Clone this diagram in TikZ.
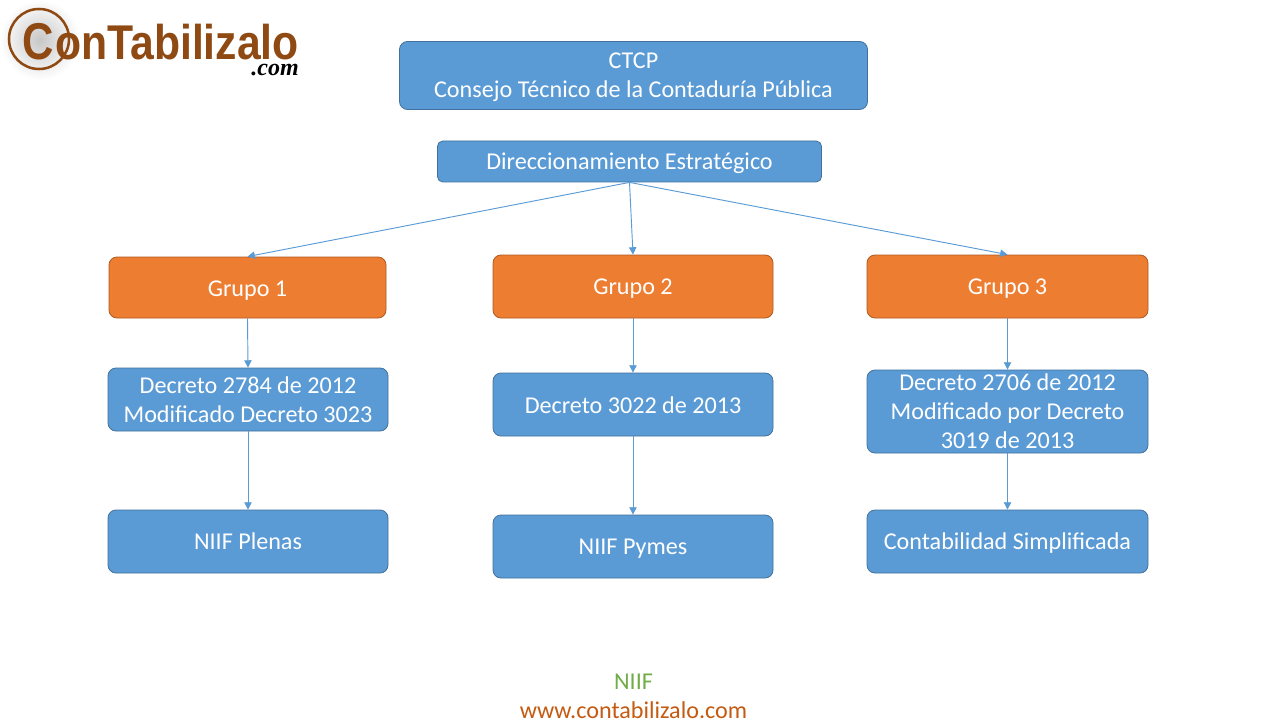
\documentclass[tikz,border=0pt]{standalone}
\usepackage{fontspec}
\setmainfont{Carlito}
\newfontfamily\logofont{Liberation Sans}[FakeStretch=0.875]
\newfontfamily\logoCfont{Liberation Sans}[FakeStretch=0.84]
\newfontfamily\comfont{Liberation Serif}
\usetikzlibrary{arrows.meta}
\definecolor{bluefill}{HTML}{5B9BD5}
\definecolor{blueline}{HTML}{41719C}
\definecolor{orangefill}{HTML}{ED7D31}
\definecolor{orangeline}{HTML}{AE5A21}
\definecolor{logobrown}{HTML}{8F4A14}
\definecolor{niifgreen}{HTML}{70AD47}
\definecolor{urlorange}{HTML}{C55A11}
\newcommand{\dn}[2][1.5pt]{\raisebox{-#1}[\height][\depth]{#2}}
\tikzset{
  x=0.75pt,y=-0.75pt,
  boxbase/.style={rounded corners=6pt,line width=0.6pt,text=white,align=center,inner sep=0pt,
     font=\fontsize{18.1pt}{21.8pt}\selectfont},
  bluebox/.style={boxbase,draw=blueline,fill=bluefill},
  orangebox/.style={boxbase,draw=orangeline,fill=orangefill},
  conn/.style={draw=bluefill,line width=0.7pt,-{Triangle[length=5.5pt,width=5.5pt]}},
  footer/.style={inner sep=0pt,font=\fontsize{18.1pt}{20pt}\selectfont},
  logotext/.style={inner sep=0pt,text=logobrown},
}
\begin{document}
\begin{tikzpicture}
\useasboundingbox (0,0) rectangle (1280,720);
\fill[white] (0,0) rectangle (1280,720);
% logo
\shade[inner color=black!22,outer color=white] (0,0) rectangle (80,80);
\draw[logobrown,line width=1.9pt] (39,39) circle (30);
\node[logotext,anchor=base,font=\logoCfont\bfseries\fontsize{38.8pt}{38.8pt}\selectfont] (logoC) at (38,60) {C};
\node[logotext,anchor=base west,font=\logofont\bfseries\fontsize{36.6pt}{36.6pt}\selectfont] (logoT) at (55,60) {onTabilizalo};
\node[anchor=base east,inner sep=0pt,text=black,font=\comfont\bfseries\itshape\fontsize{18pt}{18pt}\selectfont] (logocom) at (299,76) {.com};
% boxes
\node[bluebox,minimum width=468*0.75pt,minimum height=68*0.75pt] (ctcp) at (633.5,75.5) {\dn{CTCP}\\\dn{Consejo Técnico de la Contaduría Pública}};
\node[bluebox,minimum width=384*0.75pt,minimum height=41*0.75pt,rounded corners=4pt] (dir) at (629.5,161.5) {\dn{Direccionamiento Estratégico}};
\node[orangebox,minimum width=277*0.75pt,minimum height=61*0.75pt] (g1) at (247.5,287.5) {\dn[2pt]{Grupo 1}};
\node[orangebox,minimum width=280*0.75pt,minimum height=63*0.75pt] (g2) at (633,286.5) {\dn{Grupo 2}};
\node[orangebox,minimum width=281*0.75pt,minimum height=63*0.75pt] (g3) at (1007.5,286.5) {\dn{Grupo 3}};
\node[bluebox,minimum width=280*0.75pt,minimum height=63*0.75pt] (d1) at (248,399.5) {Decreto 2784 de 2012\\Modificado Decreto 3023};
\node[bluebox,minimum width=280*0.75pt,minimum height=63*0.75pt] (d2) at (633,404.5) {\dn[0.7pt]{Decreto 3022 de 2013}};
\node[bluebox,minimum width=281*0.75pt,minimum height=83*0.75pt] (d3) at (1007.5,411.5) {Decreto 2706 de 2012\\Modificado por Decreto\\3019 de 2013};
\node[bluebox,minimum width=280*0.75pt,minimum height=63*0.75pt] (n1) at (248,541.5) {NIIF Plenas};
\node[bluebox,minimum width=280*0.75pt,minimum height=63*0.75pt] (n2) at (633,546.5) {\dn{NIIF Pymes}};
\node[bluebox,minimum width=281*0.75pt,minimum height=63*0.75pt] (n3) at (1007.5,541.5) {\dn{Contabilidad Simplificada}};
% connectors
\draw[conn] (dir.south) -- (g1.north);
\draw[conn] (dir.south) -- (g2.north);
\draw[conn] (dir.south) -- (g3.north);
\draw[conn] (g1.south) -- (d1.north);
\draw[conn] (g2.south) -- (d2.north);
\draw[conn] (g3.south) -- (d3.north);
\draw[conn] (d1.south) -- (n1.north);
\draw[conn] (d2.south) -- (n2.north);
\draw[conn] (d3.south) -- (n3.north);
% footer
\node[footer,text=niifgreen] (niif) at (633.5,682) {NIIF};
\node[footer,text=urlorange] (url) at (633.5,710) {www.contabilizalo.com};
\end{tikzpicture}
\end{document}
